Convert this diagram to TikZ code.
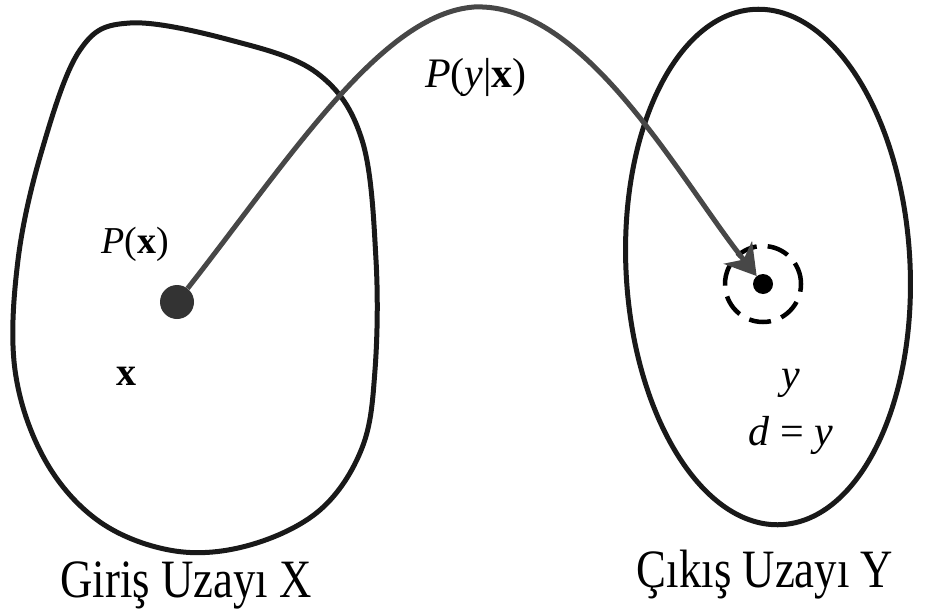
\documentclass[tikz,border=0pt]{standalone}
\usepackage{fontspec}
\setmainfont{Liberation Serif}
\usetikzlibrary{shapes.geometric,arrows.meta}
\begin{document}
\begin{tikzpicture}[x=1pt,y=-1pt,
  outline/.style={line width=5pt, draw=black!90},
  lbl/.style={inner sep=0pt, anchor=base},
  capfont/.style={font=\fontsize{54}{60}\selectfont, xscale=0.83},
  arrowline/.style={line width=5pt, draw=black!72, -{Stealth[length=30pt,width=36pt,inset=9pt]}},
  dot/.style={circle, inner sep=0pt},
  ring/.style={circle, draw=black, line width=4.5pt, dash pattern=on 22pt off 11pt, inner sep=0pt}
]
\useasboundingbox (0,0) rectangle (925,615);
% input space blob
\draw[outline] plot[smooth cycle, tension=0.6] coordinates {
  (130,23) (230,40) (317,73) (362,140) (376,260) (375,370) (362,448)
  (320,510) (250,545) (175,551) (100,522) (45,460) (15,370) (18,260) (42,150) (80,50)};
% output space ellipse
\node[outline, ellipse, minimum width=284pt, minimum height=516pt, inner sep=0pt, rotate=3] (Yspace) at (768,267) {};
% points
\node[dot, fill=black!80, minimum size=34pt] (src) at (177,302) {};
\node[dot, fill=black, minimum size=20pt] (tgt) at (763,284) {};
\node[ring, minimum size=76pt] (halo) at (763,284) {};
\coordinate (peak) at (474,7);
% mapping arrow
\draw[arrowline] (src) .. controls (292,155) and (382,14) .. (peak)
   .. controls (585,2) and (680,180) .. (tgt);
% labels
\node[lbl, font=\fontsize{42}{48}\selectfont] (pyx) at (476,88) {\textit{P}(\textit{y}|\textbf{x})};
\node[lbl, font=\fontsize{38}{44}\selectfont] (px) at (135,253) {\textit{P}(\textbf{x})};
\node[lbl, font=\fontsize{40}{46}\selectfont] (xlab) at (126,385) {\textbf{x}};
\node[lbl, font=\fontsize{42}{48}\selectfont] (ylab) at (791,388) {\textit{y}};
\node[lbl, font=\fontsize{42}{48}\selectfont] (dy) at (791,445) {\textit{d} = \textit{y}};
\node[lbl, capfont] (gin) at (186,597) {Giriş Uzayı X};
\node[lbl, capfont] (cik) at (765,587) {Çıkış Uzayı Y};
\end{tikzpicture}
\end{document}
